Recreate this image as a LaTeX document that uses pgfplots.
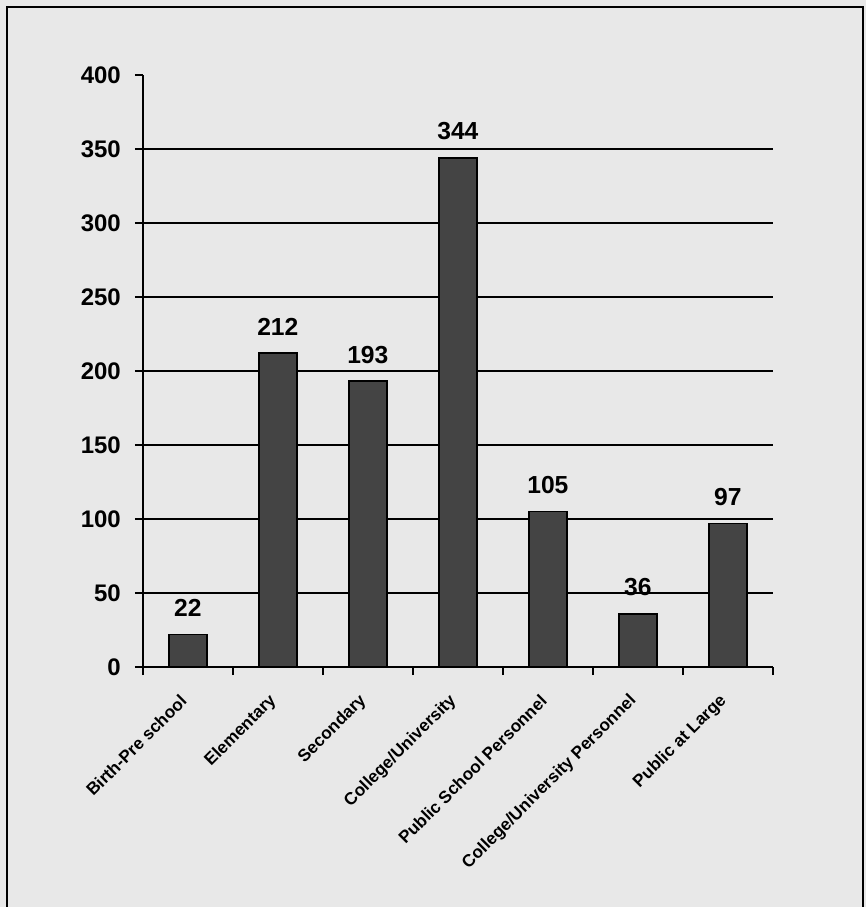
\documentclass[border=0pt]{standalone}
\usepackage{fontspec}
\setmainfont{Liberation Sans}
\usepackage{pgfplots}
\pgfplotsset{compat=1.18}
\definecolor{bg}{RGB}{232,232,232}
\definecolor{barfill}{RGB}{68,68,68}
\begin{document}
\begin{tikzpicture}
\fill[bg] (0,0) rectangle (650.25pt,681pt);
\draw[line width=1.9pt] (5.25pt,0) -- (5.25pt,675.75pt) -- (648pt,675.75pt) -- (648pt,0);
\begin{axis}[
  at={(107.25pt,180pt)}, anchor=south west,
  scale only axis, width=473.25pt, height=444.75pt,
  xmin=-0.5, xmax=6.5, ymin=0, ymax=400,
  axis lines=left, axis line style={-, line width=1.6pt},
  clip=false,
  /pgf/number format/assume math mode=true,
  tick align=outside, major tick length=6pt,
  tick style={line width=1.4pt, black},
  ytick={0,50,...,400},
  yticklabel style={font=\fontsize{18}{20}\selectfont\bfseries, xshift=-7pt},
  extra y ticks={50,100,...,350}, extra y tick labels={},
  extra y tick style={ymajorgrids=true, major grid style={line width=1.3pt, black}, ytick style={draw=none}},
  xtick={0,...,6},
  xticklabels={Birth-Pre school,Elementary,Secondary,College/University,Public School Personnel,College/University Personnel,Public at Large},
  xtick style={draw=none},
  xticklabel style={rotate=45, anchor=east, font=\fontsize{12.9}{14}\selectfont\bfseries, yshift=-10pt, xshift=-11pt},
  extra x ticks={-0.5,0.5,...,6.5}, extra x tick labels={},
  extra x tick style={xtick style={draw=black}},
]
\addplot[ybar, bar width=28.5pt, fill=barfill, draw=black, line width=1.3pt,
  nodes near coords,
  every node near coord/.append style={font=\fontsize{18.5}{20}\selectfont\bfseries, yshift=9.5pt}]
  coordinates {(0,22) (1,212) (2,193) (3,344) (4,105) (5,36) (6,97)};
\end{axis}
\end{tikzpicture}
\end{document}
